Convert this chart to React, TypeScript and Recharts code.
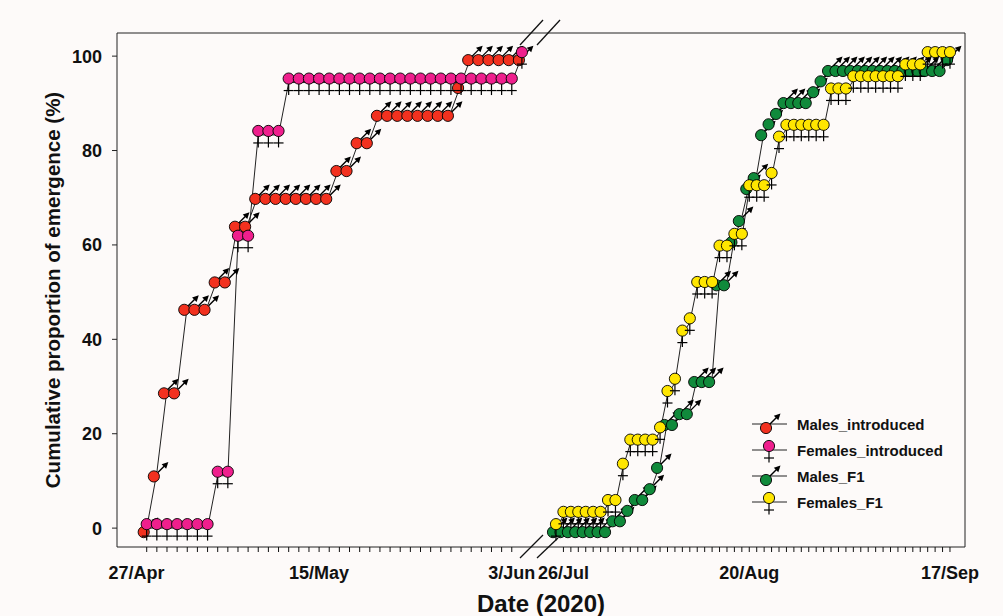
import React from "react";
import { LineChart, Line, XAxis, YAxis, Legend } from "recharts";

// Left panel: days counted from 27/Apr. Right panel: days counted from 25/Jul.
const introDays = [1, 2, 3, 4, 5, 6, 7, 8, 9, 10, 11, 12, 13, 14, 15, 16, 17, 18, 19, 20, 21, 22, 23, 24, 25, 26, 27, 28, 29, 30, 31, 32, 33, 34, 35, 36, 37, 38];
const malesIntroduced = [0, 11.8, 29.4, 29.4, 47.1, 47.1, 47.1, 52.9, 52.9, 64.7, 64.7, 70.6, 70.6, 70.6, 70.6, 70.6, 70.6, 70.6, 70.6, 76.5, 76.5, 82.4, 82.4, 88.2, 88.2, 88.2, 88.2, 88.2, 88.2, 88.2, 88.2, 94.1, 100, 100, 100, 100, 100, 100];
const femalesIntroduced = [0, 0, 0, 0, 0, 0, 0, 11.1, 11.1, 61.1, 61.1, 83.3, 83.3, 83.3, 94.4, 94.4, 94.4, 94.4, 94.4, 94.4, 94.4, 94.4, 94.4, 94.4, 94.4, 94.4, 94.4, 94.4, 94.4, 94.4, 94.4, 94.4, 94.4, 94.4, 94.4, 94.4, 94.4, 100];

const f1Days = [0, 1, 2, 3, 4, 5, 6, 7, 8, 9, 10, 11, 12, 13, 14, 15, 16, 17, 18, 19, 20, 21, 22, 23, 24, 25, 26, 27, 28, 29, 30, 31, 32, 33, 34, 35, 36, 37, 38, 39, 40, 41, 42, 43, 44, 45, 46, 47, 48, 49, 50, 51, 52, 53];
const malesF1 = [0, 0, 0, 0, 0, 0, 0, 0, 2.3, 2.3, 4.5, 6.8, 6.8, 9.1, 13.6, 22.7, 22.7, 25.0, 25.0, 31.8, 31.8, 31.8, 52.3, 52.3, 61.4, 65.9, 72.7, 75.0, 84.1, 86.4, 88.6, 90.9, 90.9, 90.9, 90.9, 93.2, 95.5, 97.7, 97.7, 97.7, 97.7, 97.7, 97.7, 97.7, 97.7, 97.7, 97.7, 97.7, 97.7, 97.7, 97.7, 97.7, 97.7, 100];
const femalesF1 = [0, 2.6, 2.6, 2.6, 2.6, 2.6, 2.6, 5.1, 5.1, 12.8, 17.9, 17.9, 17.9, 17.9, 20.5, 28.2, 30.8, 41.0, 43.6, 51.3, 51.3, 51.3, 59.0, 59.0, 61.5, 61.5, 71.8, 71.8, 71.8, 74.4, 82.1, 84.6, 84.6, 84.6, 84.6, 84.6, 84.6, 92.3, 92.3, 92.3, 94.9, 94.9, 94.9, 94.9, 94.9, 94.9, 94.9, 97.4, 97.4, 97.4, 100, 100, 100, 100];

const introTickDays = [0, 1, 2, 3, 4, 5, 6, 7, 8, 9, 10, 11, 12, 13, 14, 15, 16, 17, 18, 19, 20, 21, 22, 23, 24, 25, 26, 27, 28, 29, 30, 31, 32, 33, 34, 35, 36, 37];
const introLabelDays = [0, 18, 37];
const introLabels = ["27/Apr", "15/May", "3/Jun"];
const f1TickDays = [1, 2, 3, 4, 5, 6, 7, 8, 9, 10, 11, 12, 13, 14, 15, 16, 17, 18, 19, 20, 21, 22, 23, 24, 25, 26, 27, 28, 29, 30, 31, 32, 33, 34, 35, 36, 37, 38, 39, 40, 41, 42, 43, 44, 45, 46, 47, 48, 49, 50, 51, 52, 53];
const f1LabelDays = [1, 26, 53];
const f1Labels = ["26/Jul", "20/Aug", "17/Sep"];
const yTicks = [0, 20, 40, 60, 80, 100];

const seriesNames = ["Males_introduced", "Females_introduced", "Males_F1", "Females_F1"];
const seriesColors = ["#f2311f", "#ef1f8d", "#108a3b", "#ffe600"];
const seriesSex = ["m", "f", "m", "f"];

const introData = introDays.map((d, i) => ({ day: d, males: malesIntroduced[i], females: femalesIntroduced[i] }));
const f1Data = f1Days.map((d, i) => ({ day: d, males: malesF1[i], females: femalesF1[i] }));

const FONT = '"Liberation Sans", Arial, Helvetica, sans-serif';
const INK = "#111";
const LINE = "#222";
const BG = "#fdfaf9";
const Y_DOMAIN: [number, number] = [-4.0, 104.9];
const INTRO_DOMAIN: [number, number] = [-1.93, 39.39];
const F1_DOMAIN: [number, number] = [-2.69, 55.02];
const TICK_SIZE = 5;
const TICK_MARGIN = 14;

// SigmaPlot-like sex symbols: circle with arrow (male) or cross (female)
function Glyph({ cx, cy, fill, sex }: { cx?: number; cy?: number; fill: string; sex: string }) {
  if (cx == null || cy == null || isNaN(cx) || isNaN(cy)) return null;
  if (sex === "m") {
    const x = cx - 3;
    const y = cy + 4;
    return (
      <g>
        <line x1={x + 4} y1={y - 4} x2={x + 10.5} y2={y - 10.5} stroke="#000" strokeWidth={1.4} />
        <polygon
          points={`${x + 14.5},${y - 14.5} ${x + 7.8},${y - 12.3} ${x + 12.3},${y - 7.8}`}
          fill="#000"
        />
        <circle cx={x} cy={y} r={5.6} fill={fill} stroke="#000" strokeWidth={0.9} />
      </g>
    );
  }
  const y = cy - 4;
  return (
    <g>
      <line x1={cx} y1={y + 5} x2={cx} y2={y + 16.5} stroke="#000" strokeWidth={1.2} />
      <line x1={cx - 5} y1={y + 12} x2={cx + 5} y2={y + 12} stroke="#000" strokeWidth={1.2} />
      <circle cx={cx} cy={y} r={5.6} fill={fill} stroke="#000" strokeWidth={0.9} />
    </g>
  );
}

function DateTick(props: any) {
  const { x = 0, y = 0, payload, labelDays, labelTexts, firstMarked } = props;
  const v = payload ? payload.value : NaN;
  const k = labelDays.indexOf(v);
  const y0 = y - TICK_MARGIN - TICK_SIZE;
  return (
    <g>
      {v >= firstMarked && <line x1={x} x2={x} y1={y0} y2={y0 + TICK_SIZE} stroke={INK} strokeWidth={1} />}
      {k >= 0 && (
        <text x={x} y={y} dy="0.71em" textAnchor="middle" fontFamily={FONT} fontWeight={700} fontSize={18} fill={INK}>
          {labelTexts[k]}
        </text>
      )}
    </g>
  );
}

function LegendBox() {
  return (
    <svg width={220} height={110} style={{ display: "block" }}>
      {seriesNames.map((name, i) => {
        const y = 14 + i * 26;
        return (
          <g key={name}>
            <line x1={7} x2={42} y1={y} y2={y} stroke={LINE} strokeWidth={1} />
            <Glyph cx={24} cy={y} fill={seriesColors[i]} sex={seriesSex[i]} />
            <text x={52} y={y} dominantBaseline="central" fontFamily={FONT} fontWeight={700} fontSize={15} fill={INK}>
              {name}
            </text>
          </g>
        );
      })}
    </svg>
  );
}

function seriesLine(key: string, idx: number) {
  return (
    <Line
      key={key + idx}
      dataKey={key}
      type="linear"
      stroke={LINE}
      strokeWidth={1}
      isAnimationActive={false}
      activeDot={false}
      dot={(p: any) => <Glyph key={`${idx}-${p.index}`} cx={p.cx} cy={p.cy} fill={seriesColors[idx]} sex={seriesSex[idx]} />}
    />
  );
}

export default function App() {
  return (
    <div style={{ position: "absolute", left: 0, top: 0, width: 1003, height: 616, background: BG, fontFamily: FONT, overflow: "hidden" }}>
      <div style={{ position: "absolute", left: 0, top: 0 }}>
        <LineChart width={536} height={616} data={introData} margin={{ top: 33, right: 0, bottom: 39, left: 0 }}>
          <XAxis
            dataKey="day"
            type="number"
            domain={INTRO_DOMAIN}
            ticks={introTickDays}
            interval={0}
            height={30}
            tickSize={TICK_SIZE}
            tickMargin={TICK_MARGIN}
            tickLine={false}
            stroke={LINE}
            tick={(p: any) => <DateTick {...p} labelDays={introLabelDays} labelTexts={introLabels} firstMarked={1} />}
          />
          <YAxis
            type="number"
            domain={Y_DOMAIN}
            ticks={yTicks}
            interval={0}
            width={117}
            tickSize={5}
            tickMargin={10}
            stroke={LINE}
            tick={{ fontFamily: FONT, fontWeight: 700, fontSize: 18, fill: INK }}
          />
          {seriesLine("males", 0)}
          {seriesLine("females", 1)}
        </LineChart>
      </div>
      <div style={{ position: "absolute", left: 536, top: 0 }}>
        <LineChart width={467} height={616} data={f1Data} margin={{ top: 33, right: 38, bottom: 39, left: 0 }}>
          <XAxis
            dataKey="day"
            type="number"
            domain={F1_DOMAIN}
            ticks={f1TickDays}
            interval={0}
            height={30}
            tickSize={TICK_SIZE}
            tickMargin={TICK_MARGIN}
            tickLine={false}
            stroke={LINE}
            tick={(p: any) => <DateTick {...p} labelDays={f1LabelDays} labelTexts={f1Labels} firstMarked={1} />}
          />
          <YAxis type="number" domain={Y_DOMAIN} hide />
          {seriesLine("males", 2)}
          {seriesLine("females", 3)}
          <Legend
            layout="vertical"
            align="center"
            verticalAlign="middle"
            wrapperStyle={{ left: 209, top: 410, width: 220, height: 110 }}
            content={() => <LegendBox />}
          />
        </LineChart>
      </div>
      <svg width={1003} height={616} style={{ position: "absolute", left: 0, top: 0, pointerEvents: "none" }}>
        {/* frame: top and right edges */}
        <polyline points="117,33 965,33 965,547" fill="none" stroke={LINE} strokeWidth={1} />
        {/* axis break marks */}
        <g stroke="#111" strokeWidth={1.3}>
          <line x1={520} y1={45} x2={543} y2={20} />
          <line x1={537} y1={45} x2={560} y2={20} />
          <line x1={520} y1={558} x2={543} y2={535} />
          <line x1={537} y1={558} x2={558} y2={538} />
        </g>
        <text x={541} y={612} textAnchor="middle" fontFamily={FONT} fontWeight={700} fontSize={24} fill={INK}>
          Date (2020)
        </text>
        <text
          x={52}
          y={290}
          transform="rotate(-90 52 290)"
          textAnchor="middle"
          dominantBaseline="central"
          fontFamily={FONT}
          fontWeight={700}
          fontSize={20.5}
          fill={INK}
        >
          Cumulative proportion of emergence (%)
        </text>
      </svg>
    </div>
  );
}
